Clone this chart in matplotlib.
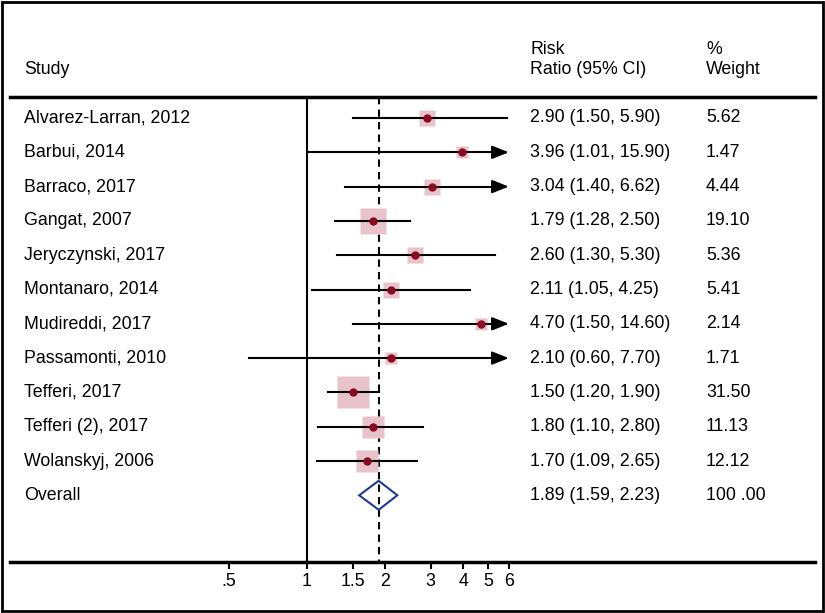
import matplotlib.pyplot as plt
import numpy as np
from matplotlib.patches import Rectangle, Polygon

plt.rcParams['font.family'] = ['Liberation Sans', 'DejaVu Sans']

studies = ["Alvarez-Larran, 2012", "Barbui, 2014", "Barraco, 2017", "Gangat, 2007",
           "Jeryczynski, 2017", "Montanaro, 2014", "Mudireddi, 2017", "Passamonti, 2010",
           "Tefferi, 2017", "Tefferi (2), 2017", "Wolanskyj, 2006"]
rr = [2.90, 3.96, 3.04, 1.79, 2.60, 2.11, 4.70, 2.10, 1.50, 1.80, 1.70]
lo = [1.50, 1.01, 1.40, 1.28, 1.30, 1.05, 1.50, 0.60, 1.20, 1.10, 1.09]
hi = [5.90, 15.90, 6.62, 2.50, 5.30, 4.25, 14.60, 7.70, 1.90, 2.80, 2.65]
weight = [5.62, 1.47, 4.44, 19.10, 5.36, 5.41, 2.14, 1.71, 31.50, 11.13, 12.12]
overall = (1.89, 1.59, 2.23)
tick_vals = [0.5, 1, 1.5, 2, 3, 4, 5, 6]
tick_labels = [".5", "1", "1.5", "2", "3", "4", "5", "6"]
x_max = 6

W, H = 825, 613
fig = plt.figure(figsize=(W / 100, H / 100), dpi=100)
ax = fig.add_axes([0, 0, 1, 1])
ax.set_xscale('log')
# pixel x = 307 + 112.6*ln(v); row i at pixel y = 118 + 34.3*i
k = 112.6
ax.set_xlim(np.exp(-307 / k), np.exp((W - 307) / k))
row0, dy = 118, 34.3
ax.set_ylim((H - row0) / dy, -row0 / dy)
ax.axis('off')

def py(p):
    return (p - row0) / dy

def fx(p):
    return p / W

def px(p):
    return np.exp((p - 307) / k)

fs = 12.8
y_top, y_axis = py(97), py(562)

# frame
fig.patches.append(Rectangle((0.003, 0.004), 0.994, 0.992, transform=fig.transFigure,
                             fill=False, lw=2, ec='black'))
ax.axhline(y_top, xmin=fx(10), xmax=fx(815), color='black', lw=2.5)
ax.axhline(y_axis, xmin=fx(10), xmax=fx(815), color='black', lw=2.5)
ax.plot([1, 1], [y_top, y_axis], color='black', lw=1.5)
ax.plot([overall[0]] * 2, [y_top, y_axis], color='black', lw=1.5, ls=(0, (3.5, 2.5)))

x_name, x_ci, x_w = px(24), px(530), px(706)

# headers
ax.text(x_name, py(70), "Study", fontsize=fs, va='center')
ax.text(x_ci, py(50), "Risk", fontsize=fs, va='center')
ax.text(x_ci, py(70), "Ratio (95% CI)", fontsize=fs, va='center')
ax.text(x_w, py(50), "%", fontsize=fs, va='center')
ax.text(x_w, py(70), "Weight", fontsize=fs, va='center')

for i, (s, r, l, h, w) in enumerate(zip(studies, rr, lo, hi, weight)):
    ax.text(x_name, i, s, fontsize=fs, va='center')
    ax.text(x_ci, i, f"{r:.2f} ({l:.2f}, {h:.2f})", fontsize=fs, va='center')
    ax.text(x_w, i, f"{w:.2f}", fontsize=fs, va='center')
    side = 5.2 + 4.77 * np.sqrt(w)
    ax.plot(r, i, marker='s', ms=side * 0.74, mfc='#e9c3cb', mec='none', zorder=2)
    if h > x_max:
        ax.plot([l, x_max * 0.93], [i, i], color='black', lw=1.5, zorder=3)
        ax.annotate('', xy=(x_max, i), xytext=(x_max * 0.9, i),
                    arrowprops=dict(arrowstyle='-|>,head_length=1.0,head_width=0.4',
                                    color='black', lw=1.5, shrinkA=0, shrinkB=0), zorder=3)
    else:
        ax.plot([l, h], [i, i], color='black', lw=1.5, zorder=3)
    ax.plot(r, i, marker='o', ms=5, color='#8a0a24', zorder=4)

io = len(studies)
ax.text(x_name, io, "Overall", fontsize=fs, va='center')
ax.text(x_ci, io, f"{overall[0]:.2f} ({overall[1]:.2f}, {overall[2]:.2f})", fontsize=fs, va='center')
ax.text(x_w, io, "100 .00", fontsize=fs, va='center')
hd = 14.5 / dy
ax.add_patch(Polygon([(overall[1], io), (overall[0], io - hd), (overall[2], io), (overall[0], io + hd)],
                     closed=True, fill=False, ec='#1f3a96', lw=1.5, zorder=4))

for v, lab in zip(tick_vals, tick_labels):
    ax.plot([v, v], [y_axis, py(568)], color='black', lw=1.5)
    ax.text(v, py(582), lab, fontsize=fs, ha='center', va='center')

fig.savefig('out.png', dpi=100)
